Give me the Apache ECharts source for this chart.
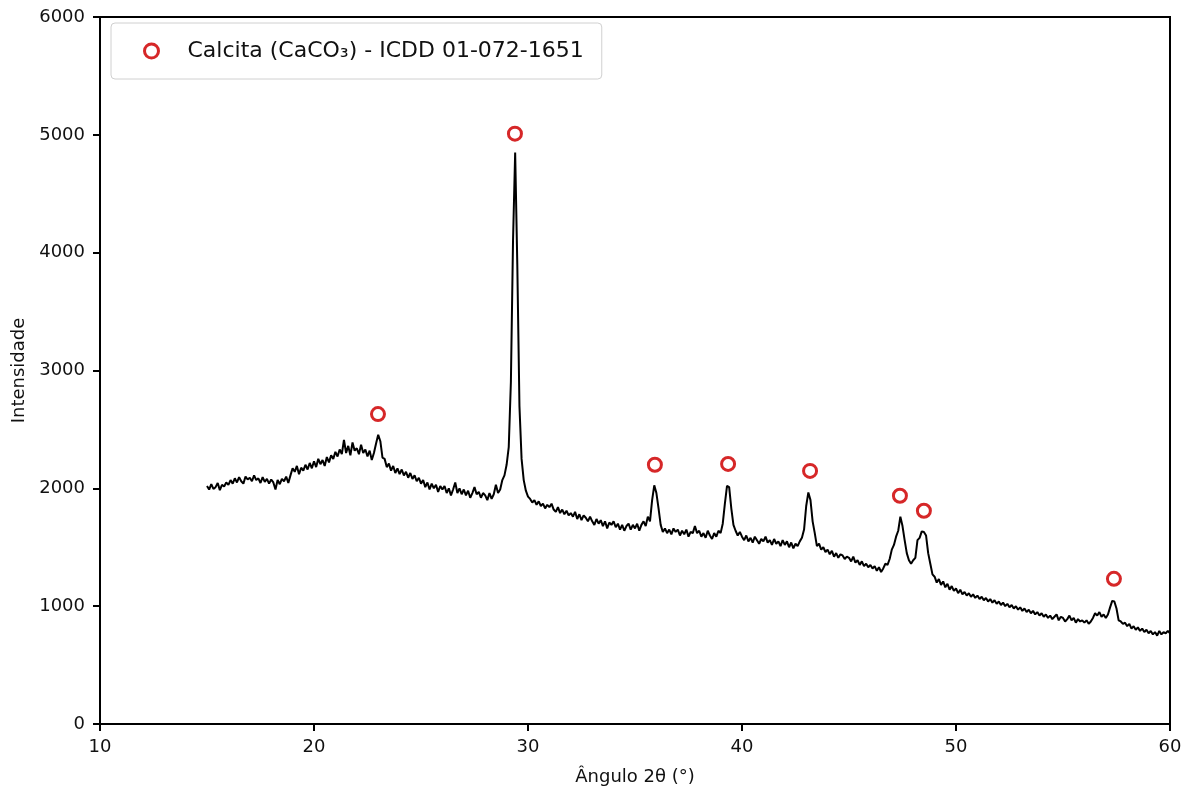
<!DOCTYPE html>
<html>
<head>
<meta charset="utf-8">
<script src="https://cdn.jsdelivr.net/npm/echarts@6/dist/echarts.min.js"></script>
<style>html,body{margin:0;padding:0;background:#fff}#c{width:1192px;height:791px}</style>
</head>
<body>
<div id="c"></div>
<script>
// XRD scan: start angle, step, intensities
const scanStart = 15.0;
const scanStep = 0.1;
const intensity = [
  2020,1990,2035,1995,2010,2045,1985,2030,2015,2050,
  2030,2070,2040,2085,2050,2095,2060,2040,2100,2075,
  2090,2060,2110,2070,2085,2045,2095,2055,2080,2040,
  2075,2050,1990,2070,2035,2080,2060,2100,2045,2110,
  2170,2140,2190,2120,2175,2150,2200,2160,2215,2170,
  2230,2180,2250,2205,2240,2190,2265,2220,2280,2250,
  2310,2270,2330,2290,2410,2300,2360,2280,2390,2320,
  2340,2290,2370,2300,2330,2270,2320,2240,2300,2380,
  2455,2400,2260,2250,2180,2210,2150,2190,2130,2170,
  2120,2160,2110,2140,2090,2130,2080,2110,2060,2090,
  2040,2070,2010,2050,1990,2040,2000,2030,1970,2020,
  1990,2020,1960,2000,1940,1990,2050,1960,2000,1950,
  1990,1940,1980,1920,1960,2010,1950,1970,1920,1960,
  1940,1900,1960,1910,1950,2030,1960,1990,2070,2110,
  2200,2350,2900,4100,4850,3900,2700,2250,2070,1980,
  1930,1910,1880,1900,1860,1890,1850,1870,1830,1860,
  1840,1870,1820,1800,1840,1790,1820,1780,1810,1770,
  1790,1760,1800,1740,1780,1730,1770,1750,1720,1760,
  1720,1690,1740,1700,1730,1680,1720,1660,1710,1690,
  1720,1670,1700,1650,1690,1640,1680,1700,1650,1690,
  1660,1700,1640,1690,1720,1680,1760,1720,1900,2025,
  1960,1830,1690,1630,1660,1620,1650,1610,1660,1630,
  1650,1600,1640,1610,1650,1590,1630,1620,1680,1620,
  1640,1590,1620,1580,1640,1600,1570,1620,1590,1640,
  1620,1700,1870,2020,2010,1830,1690,1640,1600,1630,
  1590,1560,1600,1550,1580,1540,1590,1560,1530,1570,
  1550,1590,1540,1560,1520,1570,1530,1550,1510,1560,
  1520,1550,1500,1540,1490,1530,1510,1550,1580,1650,
  1850,1965,1900,1720,1620,1510,1530,1480,1500,1460,
  1480,1440,1470,1420,1450,1410,1440,1430,1400,1420,
  1410,1380,1420,1370,1390,1350,1380,1340,1360,1330,
  1350,1320,1340,1300,1330,1290,1320,1360,1350,1400,
  1480,1520,1590,1640,1760,1680,1560,1450,1390,1360,
  1390,1410,1560,1580,1635,1630,1600,1450,1360,1270,
  1250,1200,1230,1180,1210,1160,1190,1140,1170,1130,
  1150,1110,1140,1100,1120,1090,1110,1080,1100,1070,
  1090,1060,1080,1050,1070,1040,1060,1030,1050,1020,
  1040,1010,1030,1000,1020,990,1010,980,1000,970,
  990,960,980,950,970,940,960,930,950,920,
  940,910,930,900,920,890,910,930,880,910,
  900,870,890,920,880,900,860,890,870,880,
  860,880,850,870,900,940,920,950,910,930,
  900,930,990,1045,1040,980,880,870,850,860,
  830,850,810,830,800,820,790,810,780,800,
  770,790,760,780,750,790,760,780,770,790,
  770
];

// Calcite reference peak markers
const peakAngles = [22.99, 29.39, 35.93, 39.35, 43.18, 47.38, 48.50, 57.38];
const peakMarks  = [2630, 5010, 2200, 2207, 2148, 1937, 1810, 1232];

const xTicks = [10, 20, 30, 40, 50, 60];
const yTicks = [0, 1000, 2000, 3000, 4000, 5000, 6000];
const seriesLabel = 'Calcita (CaCO\u2083) - ICDD 01-072-1651';

const scan = intensity.map((v, i) => [+(scanStart + i * scanStep).toFixed(2), v]);
const peaks = peakAngles.map((a, i) => [a, peakMarks[i]]);

const chart = echarts.init(document.getElementById('c'), null, {renderer: 'canvas'});
const font = 'DejaVu Sans';
chart.setOption({
  animation: false,
  backgroundColor: '#fff',
  textStyle: {fontFamily: font},
  grid: {left: 100, right: 22, top: 17, bottom: 67, show: true, borderColor: '#000', borderWidth: 2,
         backgroundColor: 'transparent', containLabel: false, outerBoundsMode: 'none'},
  legend: {
    left: 111, top: 23,
    data: [seriesLabel],
    backgroundColor: '#fff',
    borderColor: '#d0d0d0', borderWidth: 1, borderRadius: 4,
    padding: [17, 18, 17, 32],
    itemWidth: 14, itemHeight: 14,
    icon: 'circle',
    itemStyle: {color: '#fff', borderColor: '#d62728', borderWidth: 3},
    textStyle: {fontFamily: font, fontSize: 22, color: '#111', padding: [0, 0, 0, 24]}
  },
  xAxis: {
    type: 'value', min: xTicks[0], max: xTicks[xTicks.length - 1], interval: 10,
    name: 'Ângulo 2θ (°)', nameLocation: 'middle', nameGap: 44,
    nameTextStyle: {fontFamily: font, fontSize: 18, color: '#111'},
    axisLine: {show: true, onZero: false, lineStyle: {color: '#000', width: 2}},
    axisTick: {show: true, inside: false, length: 7, lineStyle: {color: '#000', width: 2}},
    axisLabel: {fontFamily: font, fontSize: 18, color: '#111', margin: 14},
    splitLine: {show: false}
  },
  yAxis: {
    type: 'value', min: yTicks[0], max: yTicks[yTicks.length - 1], interval: 1000,
    name: 'Intensidade', nameLocation: 'middle', nameGap: 70,
    nameTextStyle: {fontFamily: font, fontSize: 18, color: '#111'},
    axisLine: {show: true, lineStyle: {color: '#000', width: 2}},
    axisTick: {show: true, inside: false, length: 7, lineStyle: {color: '#000', width: 2}},
    axisLabel: {fontFamily: font, fontSize: 18, color: '#111', margin: 15, formatter: v => String(v)},
    splitLine: {show: false}
  },
  series: [
    {
      name: 'scan', type: 'line', data: scan, showSymbol: false, symbol: 'none',
      lineStyle: {color: '#000', width: 2}, z: 2, silent: true
    },
    {
      name: seriesLabel, type: 'scatter', data: peaks, symbol: 'circle', symbolSize: 13,
      itemStyle: {color: '#fff', borderColor: '#d62728', borderWidth: 3, opacity: 1}, z: 5
    }
  ]
});
</script>
</body>
</html>
